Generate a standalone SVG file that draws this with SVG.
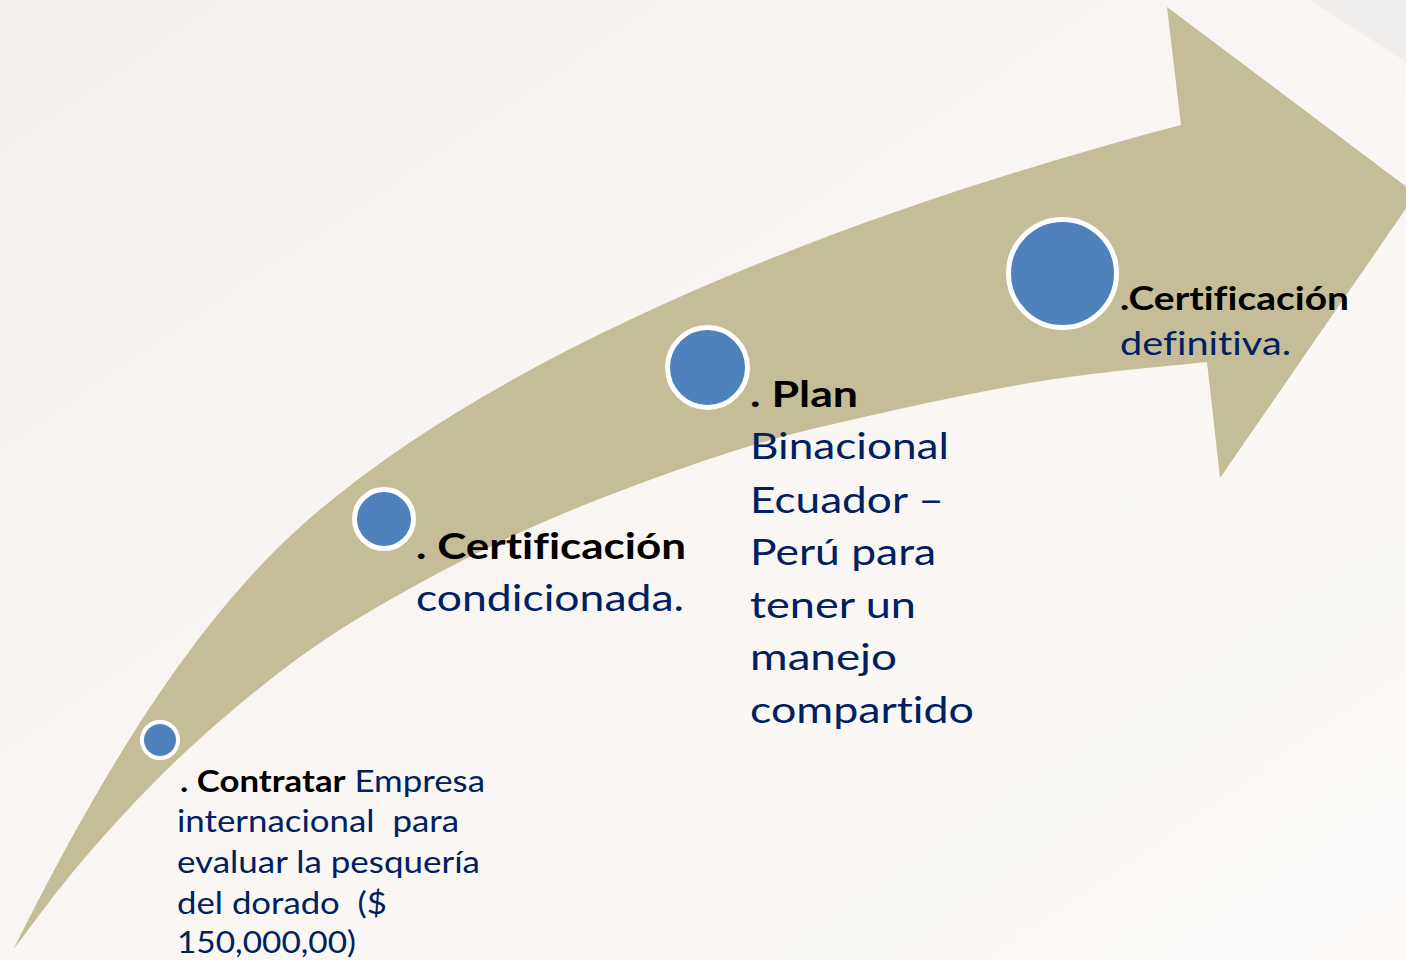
<svg xmlns="http://www.w3.org/2000/svg" width="1406" height="960" viewBox="0 0 1406 960">
<defs>
<linearGradient id="bg" x1="0" y1="0" x2="1" y2="1">
<stop offset="0" stop-color="#f3efec"/>
<stop offset="0.55" stop-color="#f9f6f3"/>
<stop offset="1" stop-color="#fcfaf8"/>
</linearGradient>
<style>
.dot{fill:#4f81bd;stroke:#ffffff}
.t{font-family:Lato,"Liberation Sans",sans-serif;fill:#002060;font-variant-ligatures:none}
.b{font-weight:700;fill:#000000}
</style>
</defs>
<rect id="background" x="0" y="0" width="1406" height="960" fill="url(#bg)"/>
<polygon points="1310,0 1406,0 1406,62" fill="#f0eeec"/>
<g id="arrow">
<path fill="#c4bd97" d="M13,950 C106.9,762.3 196,620.7 300,527 C493.2,353.1 842.6,213.9 1181,125 L1167,7 L1416,194 L1220,478 L1207,362 C1180.5,365 1102.2,371.5 1048,380 C993.8,388.5 933.8,401.3 882,413 C830.2,424.7 790.7,433 737,450 C683.3,467 612.8,492.8 560,515 C507.2,537.2 463.3,559.3 420,583 C376.7,606.7 340,628 300,657 C260,686 216.2,723.2 180,757 C143.8,790.8 110.8,827.8 83,860 C55.2,892.2 24.7,935 13,950 Z"/>
</g>
<g id="node1">
<circle class="dot" cx="160" cy="740" r="18" stroke-width="4"/>
<text class="t" font-size="30" x="180" y="792" textLength="305" lengthAdjust="spacingAndGlyphs"><tspan class="b">. Contratar</tspan> Empresa</text>
<text class="t" font-size="30" x="177" y="832" textLength="282" lengthAdjust="spacingAndGlyphs" xml:space="preserve">internacional  para</text>
<text class="t" font-size="30" x="177" y="873" textLength="303" lengthAdjust="spacingAndGlyphs">evaluar la pesquería</text>
<text class="t" font-size="30" x="177" y="914" textLength="210" lengthAdjust="spacingAndGlyphs" xml:space="preserve">del dorado  ($</text>
<text class="t" font-size="30" x="177" y="953" textLength="179" lengthAdjust="spacingAndGlyphs">150,000,00)</text>
</g>
<g id="node2">
<circle class="dot" cx="384" cy="519" r="29.5" stroke-width="5"/>
<text class="t b" font-size="37" x="416" y="559" textLength="270" lengthAdjust="spacingAndGlyphs">. Certificación</text>
<text class="t" font-size="37" x="416" y="611" textLength="268" lengthAdjust="spacingAndGlyphs">condicionada.</text>
</g>
<g id="node3">
<circle class="dot" cx="707.5" cy="367.5" r="40" stroke-width="5"/>
<text class="t b" font-size="37" x="750" y="407" textLength="108" lengthAdjust="spacingAndGlyphs">. Plan</text>
<text class="t" font-size="37" x="750" y="459" textLength="199" lengthAdjust="spacingAndGlyphs">Binacional</text>
<text class="t" font-size="37" x="750" y="513" textLength="194" lengthAdjust="spacingAndGlyphs">Ecuador –</text>
<text class="t" font-size="37" x="750" y="565" textLength="186" lengthAdjust="spacingAndGlyphs">Perú para</text>
<text class="t" font-size="37" x="750" y="618" textLength="166" lengthAdjust="spacingAndGlyphs">tener un</text>
<text class="t" font-size="37" x="750" y="670" textLength="147" lengthAdjust="spacingAndGlyphs">manejo</text>
<text class="t" font-size="37" x="750" y="723" textLength="224" lengthAdjust="spacingAndGlyphs">compartido</text>
</g>
<g id="node4">
<circle class="dot" cx="1062.5" cy="273.5" r="54" stroke-width="5"/>
<text class="t b" font-size="32" x="1120" y="310" textLength="229" lengthAdjust="spacingAndGlyphs">.Certificación</text>
<text class="t" font-size="32" x="1120" y="355" textLength="171" lengthAdjust="spacingAndGlyphs">definitiva.</text>
</g>
</svg>
